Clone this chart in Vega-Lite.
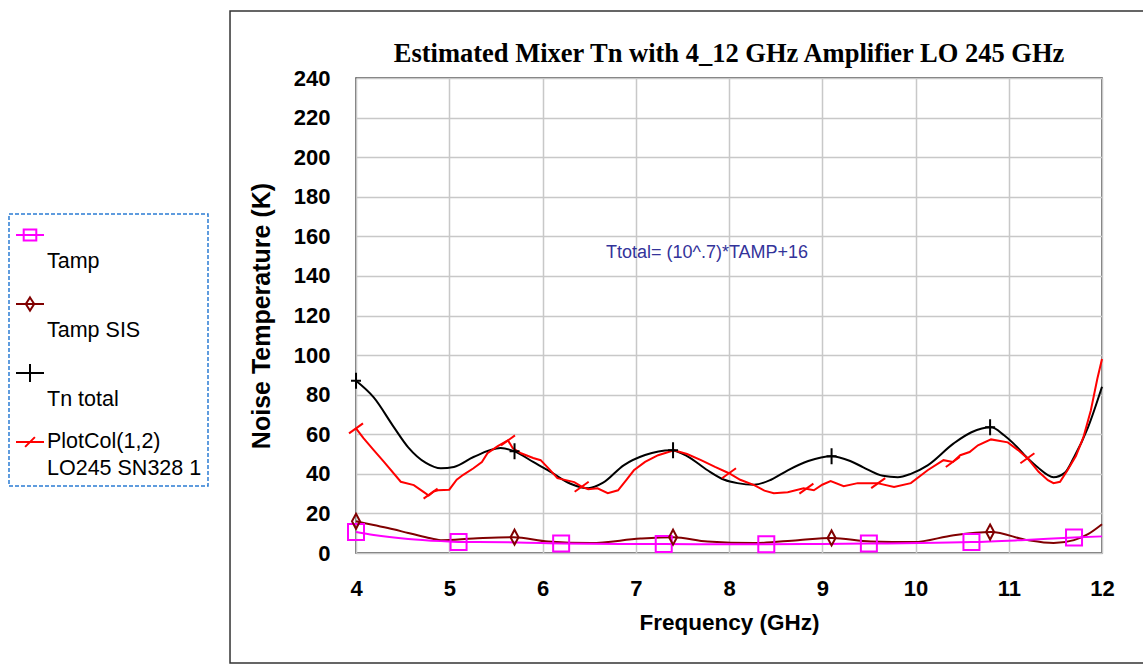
{
  "$schema": "https://vega.github.io/schema/vega-lite/v6.json",
  "width": 746,
  "height": 475,
  "padding": {"left": 8, "top": 10, "right": 0, "bottom": 0},
  "background": "white",
  "title": {"text": "Estimated Mixer Tn with 4_12 GHz Amplifier LO 245 GHz", "font": "Liberation Serif", "fontSize": 26.5, "fontWeight": "bold", "color": "black", "offset": -57, "anchor": "middle"},
  "config": {
    "view": {"stroke": "#444444", "strokeWidth": 1.5},
    "axis": {"grid": true, "gridColor": "#c8c8c8", "gridWidth": 1.5, "ticks": false, "domain": false, "labelOverlap": false, "format": "d", "labelFont": "Liberation Sans", "labelFontWeight": "bold", "labelFontSize": 22, "labelColor": "black", "titleFont": "Liberation Sans", "titleFontWeight": "bold", "titleColor": "black"},
    "legend": {
      "title": null, "orient": "none", "direction": "vertical", "legendX": -347, "legendY": 136,
      "padding": 6, "rowPadding": 16, "labelOffset": 2, "labelLimit": 400,
      "labelFont": "Liberation Sans", "labelFontSize": 21.5, "labelColor": "black",
      "strokeColor": "#2b7cd3", "fillColor": "white", "symbolSize": 784, "symbolStrokeWidth": 2
    }
  },
  "datasets": {
    "smooth": [
      {"f": 4.0, "K": 87, "series": "Tn total"}, {"f": 4.19, "K": 78.6, "series": "Tn total"}, {"f": 4.4, "K": 64, "series": "Tn total"}, {"f": 4.56, "K": 53.4, "series": "Tn total"}, {"f": 4.75, "K": 45.5, "series": "Tn total"}, {"f": 4.91, "K": 42.8, "series": "Tn total"}, {"f": 5.05, "K": 43.5, "series": "Tn total"}, {"f": 5.26, "K": 48.5, "series": "Tn total"}, {"f": 5.55, "K": 53, "series": "Tn total"}, {"f": 5.7, "K": 51.4, "series": "Tn total"}, {"f": 5.9, "K": 46, "series": "Tn total"}, {"f": 6.06, "K": 41.8, "series": "Tn total"}, {"f": 6.3, "K": 35, "series": "Tn total"}, {"f": 6.49, "K": 32.7, "series": "Tn total"}, {"f": 6.65, "K": 35.5, "series": "Tn total"}, {"f": 6.87, "K": 44.3, "series": "Tn total"}, {"f": 7.1, "K": 49.5, "series": "Tn total"}, {"f": 7.38, "K": 51.9, "series": "Tn total"}, {"f": 7.55, "K": 49, "series": "Tn total"}, {"f": 7.77, "K": 41.8, "series": "Tn total"}, {"f": 7.95, "K": 37, "series": "Tn total"}, {"f": 8.09, "K": 35.3, "series": "Tn total"}, {"f": 8.27, "K": 34.5, "series": "Tn total"}, {"f": 8.45, "K": 37, "series": "Tn total"}, {"f": 8.63, "K": 41.8, "series": "Tn total"}, {"f": 8.85, "K": 46.5, "series": "Tn total"}, {"f": 9.1, "K": 48.9, "series": "Tn total"}, {"f": 9.3, "K": 46.5, "series": "Tn total"}, {"f": 9.44, "K": 43.3, "series": "Tn total"}, {"f": 9.65, "K": 39, "series": "Tn total"}, {"f": 9.81, "K": 38.3, "series": "Tn total"}, {"f": 9.95, "K": 40, "series": "Tn total"}, {"f": 10.13, "K": 44.3, "series": "Tn total"}, {"f": 10.41, "K": 55.4, "series": "Tn total"}, {"f": 10.6, "K": 61, "series": "Tn total"}, {"f": 10.81, "K": 63.5, "series": "Tn total"}, {"f": 10.95, "K": 59.5, "series": "Tn total"}, {"f": 11.05, "K": 55.4, "series": "Tn total"}, {"f": 11.2, "K": 48, "series": "Tn total"}, {"f": 11.31, "K": 43.3, "series": "Tn total"}, {"f": 11.48, "K": 38.3, "series": "Tn total"}, {"f": 11.6, "K": 40.5, "series": "Tn total"}, {"f": 11.7, "K": 48.4, "series": "Tn total"}, {"f": 11.85, "K": 63.5, "series": "Tn total"}, {"f": 12.0, "K": 84, "series": "Tn total"},
      {"f": 4.0, "K": 16, "series": "Tamp SIS"}, {"f": 4.19, "K": 14.1, "series": "Tamp SIS"}, {"f": 4.4, "K": 12, "series": "Tamp SIS"}, {"f": 4.56, "K": 10.1, "series": "Tamp SIS"}, {"f": 4.75, "K": 8, "series": "Tamp SIS"}, {"f": 4.91, "K": 6.5, "series": "Tamp SIS"}, {"f": 5.26, "K": 7.3, "series": "Tamp SIS"}, {"f": 5.69, "K": 8.0, "series": "Tamp SIS"}, {"f": 6.06, "K": 5.8, "series": "Tamp SIS"}, {"f": 6.52, "K": 5.0, "series": "Tamp SIS"}, {"f": 7.05, "K": 7.3, "series": "Tamp SIS"}, {"f": 7.4, "K": 8.0, "series": "Tamp SIS"}, {"f": 7.77, "K": 5.8, "series": "Tamp SIS"}, {"f": 8.27, "K": 5.0, "series": "Tamp SIS"}, {"f": 8.74, "K": 6.5, "series": "Tamp SIS"}, {"f": 9.1, "K": 7.6, "series": "Tamp SIS"}, {"f": 9.52, "K": 5.8, "series": "Tamp SIS"}, {"f": 9.98, "K": 5.5, "series": "Tamp SIS"}, {"f": 10.41, "K": 9.0, "series": "Tamp SIS"}, {"f": 10.81, "K": 10.6, "series": "Tamp SIS"}, {"f": 11.2, "K": 6.5, "series": "Tamp SIS"}, {"f": 11.48, "K": 5.0, "series": "Tamp SIS"}, {"f": 11.7, "K": 6.5, "series": "Tamp SIS"}, {"f": 11.85, "K": 9.5, "series": "Tamp SIS"}, {"f": 12.0, "K": 14.5, "series": "Tamp SIS"},
      {"f": 4.0, "K": 10.6, "series": "Tamp"}, {"f": 4.19, "K": 9.1, "series": "Tamp"}, {"f": 4.56, "K": 7.1, "series": "Tamp"}, {"f": 4.91, "K": 6.0, "series": "Tamp"}, {"f": 5.1, "K": 5.6, "series": "Tamp"}, {"f": 5.63, "K": 5.4, "series": "Tamp"}, {"f": 5.98, "K": 5.0, "series": "Tamp"}, {"f": 6.2, "K": 4.8, "series": "Tamp"}, {"f": 7.0, "K": 4.5, "series": "Tamp"}, {"f": 7.3, "K": 4.5, "series": "Tamp"}, {"f": 8.0, "K": 4.4, "series": "Tamp"}, {"f": 8.4, "K": 4.4, "series": "Tamp"}, {"f": 9.0, "K": 4.6, "series": "Tamp"}, {"f": 9.5, "K": 4.8, "series": "Tamp"}, {"f": 10.05, "K": 5.0, "series": "Tamp"}, {"f": 10.6, "K": 5.5, "series": "Tamp"}, {"f": 11.13, "K": 6.5, "series": "Tamp"}, {"f": 11.7, "K": 7.8, "series": "Tamp"}, {"f": 12.0, "K": 8.4, "series": "Tamp"}
    ],
    "measured": [
      {"f": 4.0, "K": 63}, {"f": 4.08, "K": 58}, {"f": 4.19, "K": 52}, {"f": 4.3, "K": 46}, {"f": 4.48, "K": 36}, {"f": 4.62, "K": 34.3}, {"f": 4.72, "K": 31}, {"f": 4.78, "K": 29}, {"f": 4.83, "K": 31}, {"f": 4.88, "K": 31.7}, {"f": 5.0, "K": 32}, {"f": 5.08, "K": 37}, {"f": 5.15, "K": 39.5}, {"f": 5.26, "K": 42.8}, {"f": 5.35, "K": 46}, {"f": 5.41, "K": 50.4}, {"f": 5.52, "K": 54}, {"f": 5.63, "K": 56.9}, {"f": 5.68, "K": 53}, {"f": 5.77, "K": 50.4}, {"f": 5.9, "K": 48}, {"f": 5.98, "K": 46.9}, {"f": 6.08, "K": 42}, {"f": 6.16, "K": 37.8}, {"f": 6.34, "K": 35.8}, {"f": 6.42, "K": 33.5}, {"f": 6.49, "K": 32.2}, {"f": 6.59, "K": 32.7}, {"f": 6.7, "K": 30.2}, {"f": 6.81, "K": 31.7}, {"f": 6.9, "K": 37}, {"f": 6.98, "K": 41.8}, {"f": 7.1, "K": 46}, {"f": 7.24, "K": 49.4}, {"f": 7.41, "K": 51.9}, {"f": 7.55, "K": 50}, {"f": 7.7, "K": 46.9}, {"f": 7.85, "K": 43.5}, {"f": 8.0, "K": 40.3}, {"f": 8.12, "K": 37}, {"f": 8.27, "K": 34.3}, {"f": 8.38, "K": 31.5}, {"f": 8.48, "K": 30.2}, {"f": 8.63, "K": 30.7}, {"f": 8.8, "K": 32.7}, {"f": 8.91, "K": 31.7}, {"f": 9.0, "K": 34.5}, {"f": 9.09, "K": 36.3}, {"f": 9.23, "K": 33.8}, {"f": 9.38, "K": 35.3}, {"f": 9.59, "K": 35.3}, {"f": 9.77, "K": 33.3}, {"f": 9.95, "K": 35.3}, {"f": 10.13, "K": 41.8}, {"f": 10.3, "K": 46.9}, {"f": 10.4, "K": 46}, {"f": 10.48, "K": 49.4}, {"f": 10.58, "K": 51}, {"f": 10.67, "K": 54.4}, {"f": 10.81, "K": 57.4}, {"f": 10.99, "K": 55.9}, {"f": 11.1, "K": 52}, {"f": 11.2, "K": 47.9}, {"f": 11.32, "K": 41}, {"f": 11.42, "K": 36.8}, {"f": 11.48, "K": 35.3}, {"f": 11.55, "K": 36}, {"f": 11.63, "K": 41.8}, {"f": 11.72, "K": 49}, {"f": 11.8, "K": 58.4}, {"f": 11.88, "K": 72}, {"f": 11.95, "K": 88}, {"f": 12.0, "K": 98}
    ],
    "markers": [
      {"f": 4.0, "K": 10.6, "series": "Tamp"}, {"f": 5.1, "K": 5.6, "series": "Tamp"}, {"f": 6.2, "K": 4.8, "series": "Tamp"}, {"f": 7.3, "K": 4.5, "series": "Tamp"}, {"f": 8.4, "K": 4.4, "series": "Tamp"}, {"f": 9.5, "K": 4.8, "series": "Tamp"}, {"f": 10.6, "K": 5.5, "series": "Tamp"}, {"f": 11.7, "K": 7.8, "series": "Tamp"},
      {"f": 4.0, "K": 16, "series": "Tamp SIS"}, {"f": 5.7, "K": 8.0, "series": "Tamp SIS"}, {"f": 7.4, "K": 8.0, "series": "Tamp SIS"}, {"f": 9.1, "K": 7.6, "series": "Tamp SIS"}, {"f": 10.8, "K": 10.6, "series": "Tamp SIS"},
      {"f": 4.0, "K": 87, "series": "Tn total"}, {"f": 5.7, "K": 51.4, "series": "Tn total"}, {"f": 7.4, "K": 51.9, "series": "Tn total"}, {"f": 9.1, "K": 48.9, "series": "Tn total"}, {"f": 10.8, "K": 63.5, "series": "Tn total"},
      {"f": 4.0, "K": 63, "series": "PlotCol(1,2) LO245 SN328 1"}, {"f": 4.8, "K": 30, "series": "PlotCol(1,2) LO245 SN328 1"}, {"f": 5.63, "K": 56.9, "series": "PlotCol(1,2) LO245 SN328 1"}, {"f": 6.42, "K": 33.5, "series": "PlotCol(1,2) LO245 SN328 1"}, {"f": 8.0, "K": 40.3, "series": "PlotCol(1,2) LO245 SN328 1"}, {"f": 8.83, "K": 32.5, "series": "PlotCol(1,2) LO245 SN328 1"}, {"f": 9.6, "K": 35.3, "series": "PlotCol(1,2) LO245 SN328 1"}, {"f": 10.4, "K": 46, "series": "PlotCol(1,2) LO245 SN328 1"}, {"f": 11.2, "K": 47.9, "series": "PlotCol(1,2) LO245 SN328 1"}
    ]
  },
  "layer": [
    {
      "data": {"name": "smooth"},
      "mark": {"type": "line", "interpolate": "monotone", "strokeWidth": 2},
      "encoding": {
        "x": {"field": "f", "type": "quantitative", "scale": {"domain": [4, 12], "nice": false, "zero": false}, "axis": {"values": [4, 5, 6, 7, 8, 9, 10, 11, 12], "tickCount": 20, "format": "d", "labelOverlap": false, "title": "Frequency (GHz)", "titleFontSize": 22.5, "labelPadding": 25, "titlePadding": 12, "labelFlush": false}},
        "y": {"field": "K", "type": "quantitative", "scale": {"domain": [0, 240], "nice": false}, "axis": {"values": [0, 20, 40, 60, 80, 100, 120, 140, 160, 180, 200, 220, 240], "tickCount": 20, "format": "d", "labelOverlap": false, "title": "Noise Temperature (K)", "titleFontSize": 25, "labelPadding": 26, "titlePadding": 19}},
        "color": {"field": "series", "type": "nominal",
          "scale": {"domain": ["Tamp", "Tamp SIS", "Tn total", "PlotCol(1,2) LO245 SN328 1"], "range": ["#ff00ff", "#800000", "#000000", "#ff0000"]},
          "legend": {
            "labelExpr": "datum.label == 'PlotCol(1,2) LO245 SN328 1' ? ['PlotCol(1,2)', 'LO245 SN328 1'] : ['', datum.label]",
            "encode": {
              "legend": {"update": {"strokeDash": {"value": [4, 2]}, "strokeWidth": {"value": 1.5}}},
              "labels": {"update": {"lineHeight": {"value": 27}}},
              "symbols": {"update": {
                "shape": {"signal": "datum.value == 'Tamp' ? 'M-1,0H1M-0.45,-0.4H0.45V0.4H-0.45Z' : datum.value == 'Tamp SIS' ? 'M-1,0H1M0,-0.47L0.3,0L0,0.47L-0.3,0Z' : datum.value == 'Tn total' ? 'M-1,0H1M0,-0.65V0.65' : 'M-1,0H1M-0.35,0.35L0.35,-0.35'"},
                "fill": {"value": "transparent"},
                "strokeWidth": {"value": 2},
                "size": {"value": 784},
                "opacity": {"value": 1}
              }}
            }
          }
        }
      }
    },
    {
      "data": {"name": "measured"},
      "mark": {"type": "line", "interpolate": "linear", "strokeWidth": 2, "color": "#ff0000"},
      "encoding": {
        "x": {"field": "f", "type": "quantitative"},
        "y": {"field": "K", "type": "quantitative"}
      }
    },
    {
      "data": {"name": "markers"},
      "transform": [{"filter": "datum.series == 'Tamp'"}],
      "mark": {"type": "point", "filled": false, "strokeWidth": 2, "size": 400, "opacity": 1, "color": "#ff00ff", "shape": "M-0.8,-0.8H0.8V0.8H-0.8Z"},
      "encoding": {"x": {"field": "f", "type": "quantitative"}, "y": {"field": "K", "type": "quantitative"}}
    },
    {
      "data": {"name": "markers"},
      "transform": [{"filter": "datum.series == 'Tamp SIS'"}],
      "mark": {"type": "point", "filled": false, "strokeWidth": 2, "size": 400, "opacity": 1, "color": "#800000", "shape": "M0,-0.75L0.4,0L0,0.75L-0.4,0Z"},
      "encoding": {"x": {"field": "f", "type": "quantitative"}, "y": {"field": "K", "type": "quantitative"}}
    },
    {
      "data": {"name": "markers"},
      "transform": [{"filter": "datum.series == 'Tn total'"}],
      "mark": {"type": "point", "filled": false, "strokeWidth": 2, "size": 400, "opacity": 1, "color": "#000000", "shape": "M-0.5,0H0.5M0,-0.8V0.8"},
      "encoding": {"x": {"field": "f", "type": "quantitative"}, "y": {"field": "K", "type": "quantitative"}}
    },
    {
      "data": {"name": "markers"},
      "transform": [{"filter": "datum.series == 'PlotCol(1,2) LO245 SN328 1'"}],
      "mark": {"type": "point", "filled": false, "strokeWidth": 2, "size": 400, "opacity": 1, "color": "#ff0000", "shape": "M-0.7,0.5L0.7,-0.5"},
      "encoding": {"x": {"field": "f", "type": "quantitative"}, "y": {"field": "K", "type": "quantitative"}}
    },
    {
      "data": {"values": [{}]},
      "mark": {"type": "rect", "fill": "transparent", "stroke": "#333333", "strokeWidth": 1.5},
      "encoding": {
        "x": {"datum": 2.649, "type": "quantitative"},
        "x2": {"datum": 12.6},
        "y": {"datum": 273.9, "type": "quantitative"},
        "y2": {"datum": -55.6}
      }
    },
    {
      "data": {"values": [{}]},
      "mark": {"type": "text", "text": "Ttotal= (10^.7)*TAMP+16", "align": "left", "baseline": "middle", "font": "Liberation Sans", "fontSize": 18, "color": "#33339a"},
      "encoding": {"x": {"datum": 6.68, "type": "quantitative"}, "y": {"datum": 151.6, "type": "quantitative"}}
    }
  ]
}
